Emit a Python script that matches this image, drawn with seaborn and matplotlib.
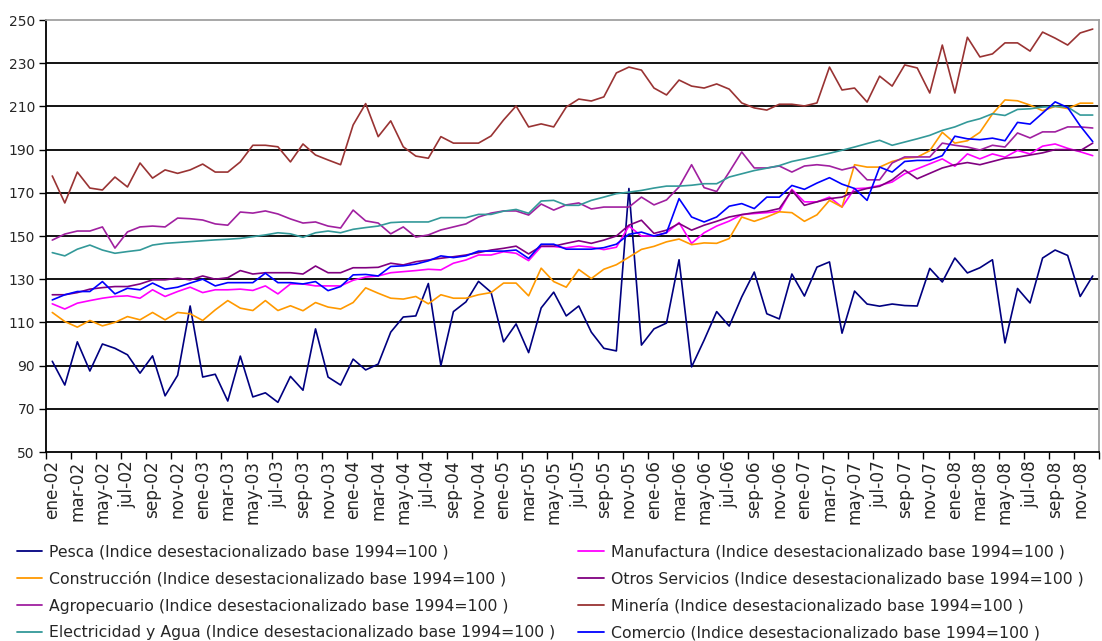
import matplotlib
matplotlib.use("Agg")
import matplotlib.pyplot as plt
import seaborn as sns
import pandas as pd
import numpy as np
from matplotlib.ticker import FixedLocator

# ---------------- data ----------------
meses = ["ene", "feb", "mar", "abr", "may", "jun", "jul", "ago", "sep", "oct", "nov", "dic"]
years = ["02", "03", "04", "05", "06", "07", "08"]
periodos = [f"{m}-{y}" for y in years for m in meses]

pesca = [92, 81, 101, 87.5, 100, 98, 95, 86.5, 94.5, 76,
         85.5, 117.6, 84.7, 86, 73.6, 94.4, 75.5, 77.4, 73, 85,
         78.6, 107, 84.7, 81, 93, 88, 90.7, 105.5, 112.5, 113,
         128, 90, 115, 119.5, 129, 124, 101, 109.3, 96, 116.7,
         124, 113, 117.6, 105.5, 98, 96.8, 172, 99.5, 107, 109.7,
         139, 89.4, 101.8, 115, 108.3, 121.8, 133.3, 114, 111.6, 132.4,
         122.2, 135.6, 138, 105, 124.5, 118.5, 117.5, 118.5, 117.8, 117.6,
         135, 128.7, 139.8, 132.9, 135.3, 139, 100.5, 125.7, 119, 139.8,
         143.5, 141, 122, 131.5]

manufactura = [118.6, 116.2, 118.9, 120.1, 121.2, 122, 122.3, 121.2, 125.1, 122,
               124.3, 126.3, 123.8, 125.1, 125.1, 125.4, 124.8, 126.9, 123.2, 127.8,
               127.8, 126.9, 126.9, 126.9, 129.5, 131, 131.5, 133, 133.5, 134,
               134.6, 134.3, 137.4, 138.9, 141.2, 141.2, 142.7, 142, 138.6, 145.1,
               145.1, 144.5, 145.4, 144.8, 143.7, 144.8, 154.6, 150, 150, 151.5,
               156.2, 146.6, 151.5, 154.6, 156.9, 159.9, 160.4, 160.8, 161.4, 171.6,
               165.8, 165.8, 168, 163.4, 171.9, 172.2, 173.4, 175, 178.8, 181.1,
               183.4, 185.7, 182.3, 188, 185.7, 188, 186.5, 189.6, 188, 191.6,
               192.6, 190.6, 189, 187.2]

construccion = [114.6, 110.4, 107.8, 110.9, 108.4, 110, 112.7, 111.2, 114.6, 111.2,
                114.6, 114, 110.9, 115.8, 120.1, 116.6, 115.5, 120.1, 115.5, 117.7,
                115.4, 119.2, 117.1, 116.2, 119.2, 126, 123.5, 121.2, 120.8, 122,
                118.6, 122.8, 121.2, 121.2, 122.8, 123.8, 128.2, 128.2, 122.3, 135.1,
                128.9, 126.3, 134.5, 130.3, 134.6, 136.7, 140.2, 143.8, 145.2, 147.3,
                148.6, 146, 146.8, 146.6, 148.8, 158.8, 156.8, 158.8, 161.2, 160.8,
                156.8, 159.8, 166.5, 163.4, 183, 181.9, 181.9, 184.5, 186, 186.5,
                189.5, 198, 193, 194.1, 198, 206.5, 213, 212.6, 210.6, 208,
                210, 209, 211.5, 211.5]

otros_servicios = [122.8, 122.8, 123.8, 125.4, 126.1, 126.6, 126.6, 127.8, 129.7, 129.7,
                   130.5, 129.7, 131.5, 130, 130.7, 134, 132.4, 133, 133, 133,
                   132.4, 136.1, 133, 133, 135.3, 135.3, 135.5, 137.4, 136.6, 138.1,
                   138.9, 139.7, 140.4, 141.2, 142.3, 143.5, 144.3, 145.3, 141.7, 145.3,
                   145.3, 146.6, 147.8, 146.6, 148.1, 150, 155, 157.3, 151.2, 152.7,
                   155.8, 152.7, 155, 156.8, 158.8, 159.9, 160.8, 161.4, 162.7, 171.1,
                   164.2, 165.8, 167.3, 168, 170.5, 172, 173, 176, 180.5, 176.5,
                   179, 181.5, 183, 184, 183, 184.5, 186, 186.5, 187.5, 188.5,
                   190, 190, 189.5, 193]

agropecuario = [148.1, 150.9, 152.3, 152.3, 154.2, 144.4, 151.9, 154.2, 154.6, 154.2,
                158.3, 158, 157.4, 155.6, 155, 161.1, 160.6, 161.6, 160.2, 157.9,
                156, 156.5, 154.6, 153.7, 162, 157, 156, 151, 154.2, 149.5,
                150.5, 152.8, 154.2, 155.6, 158.8, 160.6, 161.6, 161.6, 159.7, 164.8,
                162, 164.4, 165.3, 162.5, 163.4, 163.4, 163.4, 168, 164.4, 166.7,
                172.7, 183, 172.4, 170.6, 179.6, 188.9, 181.5, 181.5, 182.4, 179.6,
                182.4, 183, 182.4, 180.6, 182, 176, 176, 183.8, 186.6, 186.6,
                186.6, 193, 192, 191.2, 189.8, 192, 191.2, 197.7, 195.4, 198.2,
                198.2, 200.5, 200.5, 200]

mineria = [177.8, 165.3, 179.6, 172.2, 171.3, 177.3, 172.7, 183.8, 176.8, 180.6,
           179, 180.6, 183.3, 179.6, 179.6, 184.3, 192, 192, 191.3, 184.3,
           192.6, 187.5, 185.2, 183, 201.4, 211.3, 196, 203.3, 191.3, 187,
           186, 196, 193, 193, 193, 196.3, 203.7, 210.2, 200.5, 201.9,
           200.5, 209.7, 213.4, 212.5, 214.4, 225.5, 228.2, 226.8, 218.5, 215.3,
           222.2, 219.4, 218.5, 220.4, 218, 211.6, 209.3, 208.3, 211, 211,
           210.2, 211.6, 228.2, 217.6, 218.5, 212, 224, 219.4, 229.2, 227.8,
           216.2, 238.4, 216.2, 242, 232.9, 234.3, 239.4, 239.4, 235.6, 244.4,
           241.6, 238.4, 244, 245.8]

electricidad = [142.3, 140.8, 143.9, 145.8, 143.5, 142, 142.8, 143.5, 145.8, 146.6,
                147, 147.4, 147.8, 148.2, 148.5, 148.9, 149.7, 150.5, 151.5, 151,
                149.4, 151.5, 152.3, 151.5, 153.1, 153.9, 154.6, 156.2, 156.5, 156.5,
                156.5, 158.5, 158.5, 158.5, 160, 160, 161.5, 162.3, 160.5, 166.2,
                166.5, 164.2, 164.2, 166.5, 168, 169.6, 170.3, 171.1, 172.2, 173.1,
                173.1, 173.5, 174.2, 174.2, 177.3, 178.8, 180.3, 181.4, 182.6, 184.5,
                185.7, 187, 188.3, 189.7, 191.2, 192.8, 194.3, 192, 193.5, 195,
                196.6, 198.9, 200.5, 202.8, 204.3, 206.6, 205.8, 208.6, 208.9, 209.7,
                210, 209.7, 206, 206]

comercio = [120.4, 122.8, 124.3, 124.3, 128.9, 123.2, 125.8, 125.1, 128.2, 125.4,
            126.3, 128.2, 130, 126.9, 128.4, 128.4, 128.4, 132.8, 128.4, 128.4,
            127.8, 128.9, 124.7, 126.6, 132, 132.2, 131.5, 135.9, 136.2, 137,
            138.5, 140.8, 140, 140.8, 143, 143, 143, 143.5, 139.6, 146.2,
            146.2, 143.9, 143.9, 143.9, 144.6, 146.2, 150.8, 151.8, 150, 151.5,
            167.3, 158.8, 156.5, 158.8, 163.8, 165, 162.7, 168, 168, 173.4,
            171.6, 174.5, 177, 174, 172, 166.5, 181.9, 179.6, 184.5, 185,
            185, 187.2, 196.2, 195, 194.6, 195.3, 194.1, 202.6, 201.8, 206.9,
            212.1, 209.5, 201, 193.7]

sufijo = " (Indice desestacionalizado base 1994=100 )"
series_names = ["Pesca", "Manufactura", "Construcción", "Otros Servicios",
                "Agropecuario", "Minería", "Electricidad y Agua", "Comercio"]
series_values = [pesca, manufactura, construccion, otros_servicios,
                 agropecuario, mineria, electricidad, comercio]
series_colors = ["#000080", "#FF00FF", "#FF9900", "#800080",
                 "#A020A0", "#993333", "#339999", "#0000FF"]

y_ticks = [50, 70, 90, 110, 130, 150, 170, 190, 210, 230, 250]

# ---------------- figure ----------------
sns.set_style("white")
plt.rcParams["font.family"] = ["DejaVu Sans"]

fig = plt.figure(figsize=(11.02, 6.41), dpi=100)
ax = fig.add_axes([46 / 1102, 1 - 452 / 641, (1099 - 46) / 1102, (452 - 20) / 641])

idx = np.arange(len(periodos))
frames = []
for name, vals in zip(series_names, series_values):
    frames.append(pd.DataFrame({"i": idx, "valor": vals, "serie": name + sufijo}))
df = pd.concat(frames, ignore_index=True)
palette = {n + sufijo: c for n, c in zip(series_names, series_colors)}

sns.lineplot(data=df, x="i", y="valor", hue="serie", palette=palette,
             hue_order=[n + sufijo for n in series_names],
             linewidth=1.2, ax=ax, legend=False, estimator=None, sort=False)

ax.set_xlim(-0.5, len(periodos) - 0.5)
ax.set_ylim(50, 250)
ax.set_xlabel("")
ax.set_ylabel("")

# y axis
ax.set_yticks(y_ticks)
ax.set_yticklabels([str(v) for v in y_ticks], fontsize=10)
ax.tick_params(axis="y", length=5, width=1, color="black", direction="out", pad=3, left=True)
ax.yaxis.grid(True, color="black", linewidth=1.3)
gl = ax.get_ygridlines()
gl[-1].set_visible(False)
gl[0].set_visible(False)
ax.xaxis.grid(False)

# x axis: labels every 2 months, tick marks between category pairs
ax.set_xticks(idx[::2])
ax.set_xticklabels(periodos[::2], rotation=90, fontsize=12.2)
ax.tick_params(axis="x", which="major", length=0, pad=6, bottom=True)
ax.xaxis.set_minor_locator(FixedLocator(np.arange(-0.5, len(periodos), 2)))
ax.tick_params(axis="x", which="minor", length=5, width=1, color="black",
               direction="out", bottom=True)

for s in ["left", "bottom"]:
    ax.spines[s].set_color("black")
    ax.spines[s].set_linewidth(1.3)
for s in ["top", "right"]:
    ax.spines[s].set_color("#A0A0A0")
    ax.spines[s].set_linewidth(1.3)

# legend (column-major order to reproduce Excel's row-major layout)
order = [0, 2, 4, 6, 1, 3, 5, 7]
handles = [plt.Line2D([], [], color=series_colors[k], linewidth=1.3) for k in order]
labels = [series_names[k] + sufijo for k in order]
fig.legend(handles, labels, loc="upper left", bbox_to_anchor=(0.015, 0.150),
           ncol=2, frameon=False, fontsize=11.3, handlelength=1.65,
           handletextpad=0.45, columnspacing=1.45, labelspacing=0.74,
           borderaxespad=0, borderpad=0)

fig.savefig("out.png", dpi=100)
